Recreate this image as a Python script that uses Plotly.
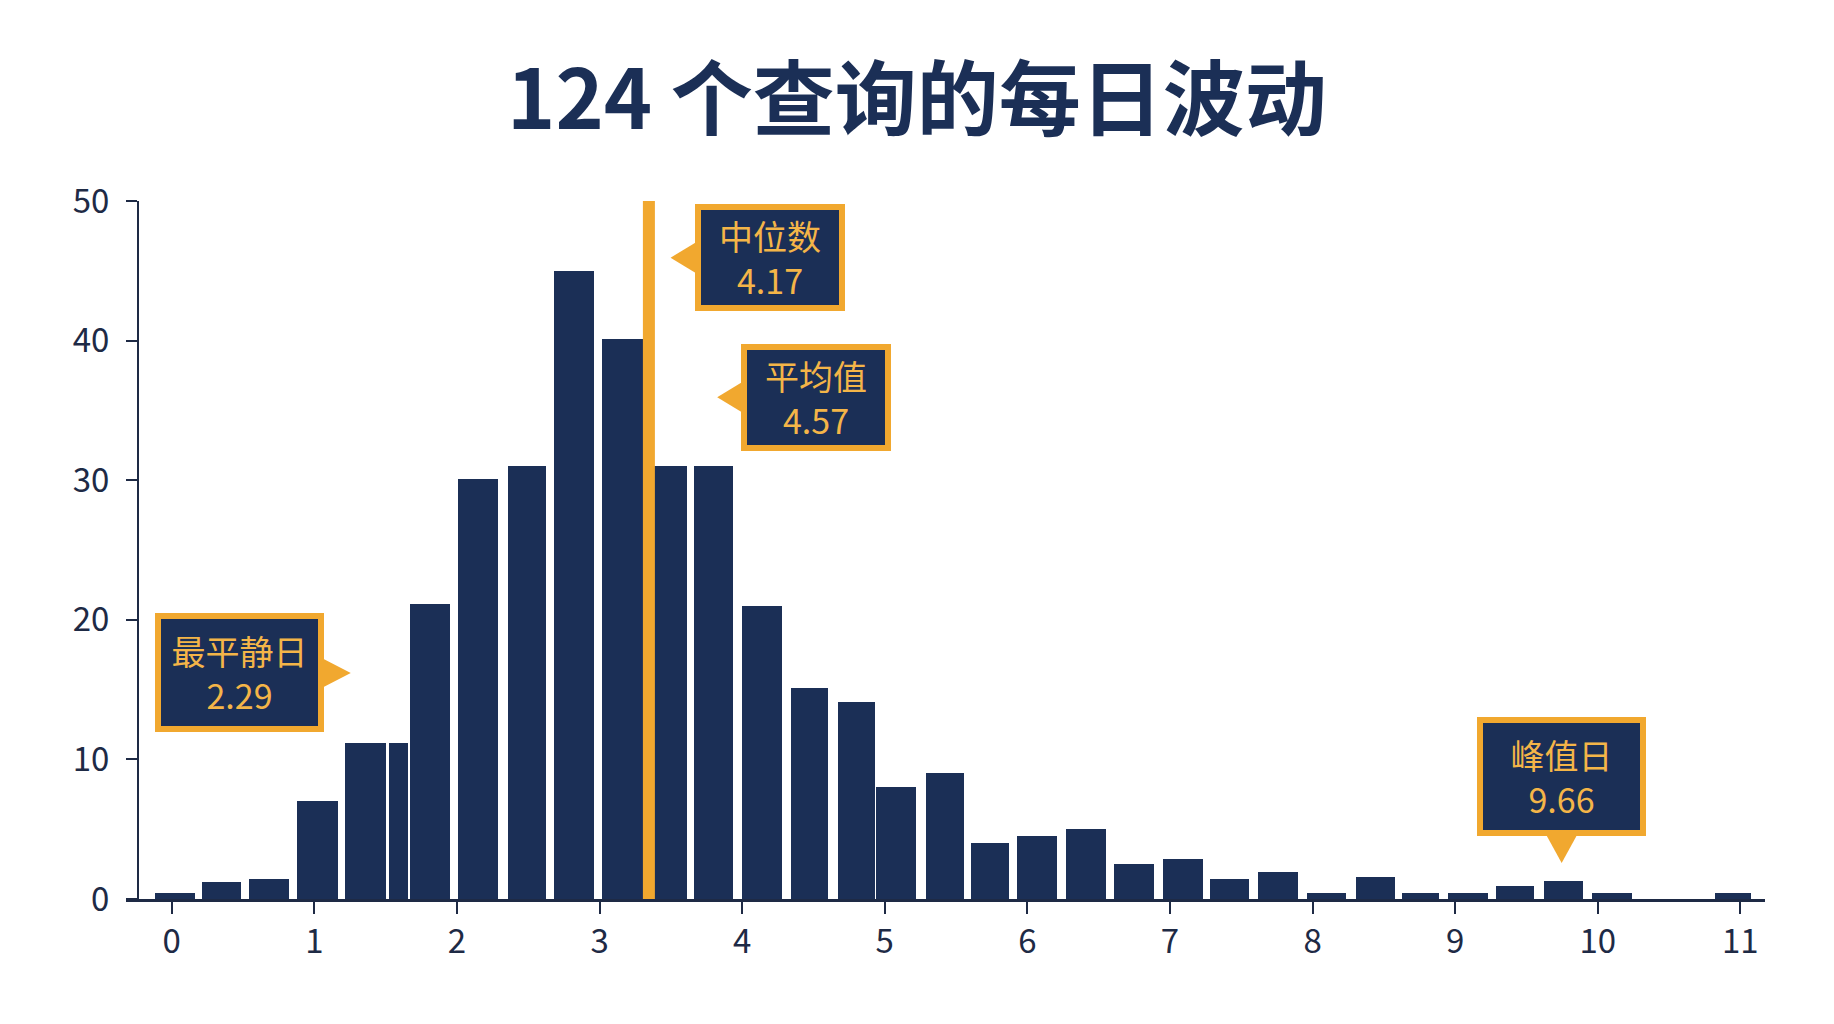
import plotly.graph_objects as go

# ── colours ──
NAVY = "#1B2F56"
INK = "#1E2A45"
ORANGE = "#F1A82F"
ORANGE_TEXT = "#F4B548"
WHITE = "#FFFFFF"
FONT = "Noto Sans CJK SC"

# ── data ──
title_text = "124 个查询的每日波动"

bin_centers = [0.02, 0.35, 0.68, 1.02, 1.36, 1.59, 1.81, 2.15, 2.49, 2.82, 3.16,
               3.47, 3.80, 4.14, 4.47, 4.80, 5.08, 5.42, 5.74, 6.07, 6.41, 6.75,
               7.09, 7.42, 7.76, 8.10, 8.44, 8.76, 9.09, 9.42, 9.76, 10.10, 10.95]
bin_widths = [0.28, 0.27, 0.28, 0.285, 0.285, 0.13, 0.28, 0.28, 0.265, 0.28, 0.285,
              0.28, 0.27, 0.285, 0.26, 0.26, 0.285, 0.265, 0.265, 0.28, 0.28, 0.28,
              0.28, 0.275, 0.28, 0.275, 0.275, 0.26, 0.28, 0.265, 0.28, 0.275, 0.255]
counts = [0.4, 1.2, 1.45, 7.05, 11.2, 11.2, 21.1, 30.1, 31, 45, 40.1,
          31, 31, 21, 15.1, 14.1, 8.05, 9.05, 4.0, 4.5, 5.0, 2.5,
          2.9, 1.4, 1.9, 0.45, 1.6, 0.45, 0.45, 0.9, 1.3, 0.45, 0.4]

median_line_x = 3.346

callout_labels = ["中位数", "平均值", "最平静日", "峰值日"]
callout_values = ["4.17", "4.57", "2.29", "9.66"]
callout_x = [3.498, 3.825, 1.255, 9.747]
callout_y = [45.94, 35.94, 16.19, 2.57]
callout_side = ["left", "left", "right", "bottom"]   # side the pointer sits on

x_ticks = list(range(0, 12))
y_ticks = [0, 10, 20, 30, 40, 50]

# ── figure ──
fig = go.Figure()

fig.add_trace(go.Bar(
    x=bin_centers, y=counts, width=bin_widths,
    marker=dict(color=NAVY, line=dict(width=0)),
    hoverinfo="x+y", showlegend=False,
))

shapes = [dict(
    type="line", xref="x", yref="y",
    x0=median_line_x, x1=median_line_x, y0=0, y1=50,
    line=dict(color=ORANGE, width=12), layer="above",
)]

annotations = []
for label, value, cx, cy, side in zip(callout_labels, callout_values,
                                      callout_x, callout_y, callout_side):
    wide = len(label) > 3 or side == "bottom"
    box_w, box_h = (157, 107) if wide else (138, 95)
    ann = dict(
        x=cx, y=cy, xref="x", yref="y",
        text=f"{label}<br>{value}", showarrow=False,
        font=dict(family=FONT, size=34, color=ORANGE_TEXT),
        bgcolor=NAVY, bordercolor=ORANGE, borderwidth=6, borderpad=0,
        width=box_w, height=box_h, align="center", valign="middle",
    )
    if side == "left":
        ann.update(xanchor="left", yanchor="middle", xshift=24)
        path = "M 0 0 L 28 17 L 28 -17 Z"
    elif side == "right":
        ann.update(xanchor="right", yanchor="middle", xshift=-27)
        path = "M 0 0 L -31 16 L -31 -16 Z"
    else:
        ann.update(xanchor="center", yanchor="bottom", yshift=27)
        path = "M 0 0 L -17 31 L 17 31 Z"
    annotations.append(ann)
    shapes.append(dict(
        type="path", xref="x", yref="y",
        xsizemode="pixel", ysizemode="pixel", xanchor=cx, yanchor=cy,
        path=path, fillcolor=ORANGE, line=dict(width=0), layer="above",
    ))

# page body adds an 8px offset, so margins are pulled back by 8
fig.update_layout(
    width=1834, height=1024,
    margin=dict(l=118, r=77, t=193, b=133, pad=0),
    paper_bgcolor=WHITE, plot_bgcolor=WHITE,
    font=dict(family=FONT, color=INK),
    title=dict(
        text=title_text, x=0.5 - 8 / 1834, xanchor="center", xref="container",
        y=1 - 92 / 1024, yanchor="middle", yref="container",
        font=dict(family=FONT, size=82, color=NAVY, weight="bold"),
    ),
    bargap=0,
    shapes=shapes,
    annotations=annotations,
    xaxis=dict(
        range=[-0.321, 11.173], tickvals=x_ticks,
        showgrid=False, zeroline=False,
        showline=True, linecolor=INK, linewidth=2.5,
        ticks="outside", ticklen=12, tickwidth=2, tickcolor=INK,
        ticklabelstandoff=0,
        tickfont=dict(family=FONT, size=33, color=INK),
    ),
    yaxis=dict(
        range=[0, 50], tickvals=y_ticks,
        anchor="free", position=0.0073,
        showgrid=False, zeroline=False,
        showline=True, linecolor=INK, linewidth=2,
        ticks="outside", ticklen=11, tickwidth=2, tickcolor=INK,
        ticklabelstandoff=10,
        tickfont=dict(family=FONT, size=33, color=INK),
    ),
)

fig.write_html("out.html")
